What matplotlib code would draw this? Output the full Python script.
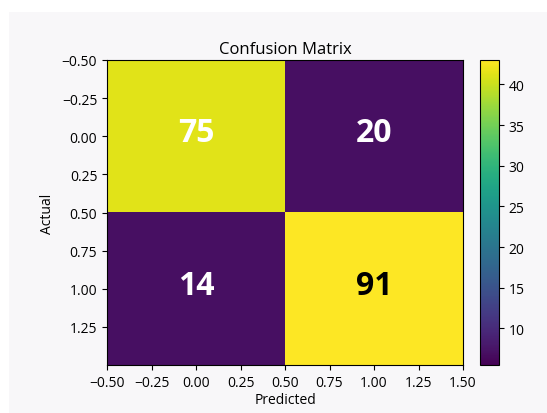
import matplotlib
matplotlib.use("Agg")
import matplotlib.pyplot as plt
import numpy as np
from matplotlib.patches import Rectangle

# Data
counts = [[75, 20], [14, 91]]            # annotated numbers
image_values = [[41.3, 7.0], [7.0, 43.0]]  # values driving the colours
title = "Confusion Matrix"
xlabel = "Predicted"
ylabel = "Actual"
text_colors = [["white", "white"], ["white", "black"]]
cbar_ticks = [10, 15, 20, 25, 30, 35, 40]

plt.rcParams['font.family'] = ['Open Sans', 'DejaVu Sans']
plt.rcParams['axes.unicode_minus'] = True

fig = plt.figure(figsize=(5.47, 4.14), dpi=100)
fig.patch.set_facecolor('white')
fig.patches.append(Rectangle((9/547, 0), 1 - 9/547, 1 - 13/414,
                             transform=fig.transFigure, facecolor='#f8f7f9',
                             edgecolor='none', zorder=-10))

ax = fig.add_axes([107/547, 1 - 366/414, 356/547, 305/414])
cax = fig.add_axes([480/547, 1 - 366/414, 19/547, 305/414])

data = np.array(image_values)
im = ax.imshow(data, cmap='viridis', vmin=5.5, vmax=43.0, aspect='auto')

for i in range(2):
    for j in range(2):
        ax.annotate(str(counts[i][j]), xy=(j, i), xytext=(0, 2.5),
                    textcoords='offset points', ha='center', va='center',
                    fontsize=23, fontweight='bold', color=text_colors[i][j])

ax.set_title(title, fontsize=12, pad=5)
ax.set_xlabel(xlabel, fontsize=10, labelpad=2)
ax.set_ylabel(ylabel, fontsize=10, labelpad=5)
ax.set_xlim(-0.5, 1.5)
ax.set_ylim(1.5, -0.5)
ax.set_xticks(np.arange(-0.5, 1.51, 0.25))
ax.set_yticks(np.arange(-0.5, 1.26, 0.25))
ax.tick_params(labelsize=10)

cb = fig.colorbar(im, cax=cax)
cb.set_ticks(cbar_ticks)
cb.ax.tick_params(labelsize=10)

fig.savefig("out.png", dpi=100, facecolor=fig.get_facecolor())
